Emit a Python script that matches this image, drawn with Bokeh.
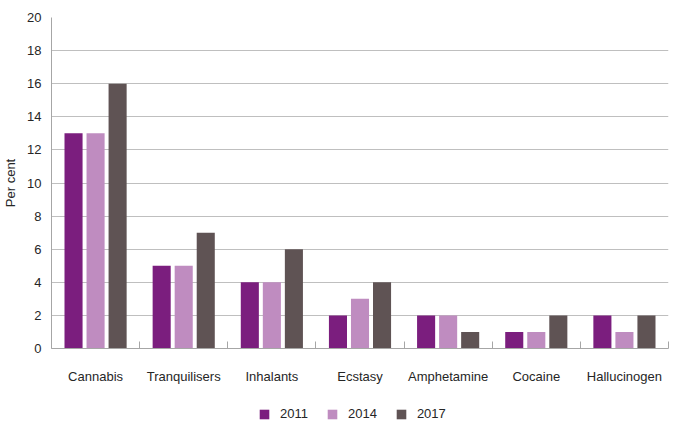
import numpy as np
from bokeh.plotting import figure
from bokeh.layouts import column
from bokeh.models import ColumnDataSource, FixedTicker, Legend, LegendItem, Range1d
from bokeh.transform import dodge
from bokeh.embed import file_html
from bokeh.resources import INLINE

categories = ["Cannabis", "Tranquilisers", "Inhalants", "Ecstasy", "Amphetamine", "Cocaine", "Hallucinogen"]
years = ["2011", "2014", "2017"]
v2011 = [13, 5, 4, 2, 2, 1, 2]
v2014 = [13, 5, 4, 3, 2, 1, 1]
v2017 = [16, 7, 6, 4, 1, 2, 2]
y_ticks = [0, 2, 4, 6, 8, 10, 12, 14, 16, 18, 20]

colors = ["#7B1E7E", "#BF8CC0", "#5F5354"]
FONT = "Liberation Sans"

xpos = np.arange(len(categories)) + 0.5
src = ColumnDataSource(dict(x=xpos, y2011=v2011, y2014=v2014, y2017=v2017))

p = figure(width=675, height=401, output_backend="svg", toolbar_location=None,
           x_range=Range1d(0, len(categories)), y_range=Range1d(0, 20),
           min_border_left=51, min_border_right=7, min_border_top=17, min_border_bottom=53)
p.outline_line_color = None
p.background_fill_color = "white"

for col, off, c in zip(["y2011", "y2014", "y2017"], [-0.25, 0.0, 0.25], colors):
    p.vbar(x=dodge("x", off), top=col, width=0.205, source=src, fill_color=c, line_color=None)

# x axis
p.xaxis.ticker = FixedTicker(ticks=list(xpos), minor_ticks=list(range(len(categories) + 1)))
p.xaxis.major_label_overrides = {float(x): c for x, c in zip(xpos, categories)}
p.xaxis.major_tick_line_color = None
p.xaxis.minor_tick_in = 7
p.xaxis.minor_tick_out = 0
p.xaxis.minor_tick_line_color = "#A6A6A6"
p.xaxis.axis_line_color = "#A6A6A6"
p.xaxis.major_label_standoff = 14
p.xaxis.major_label_text_font = FONT
p.xaxis.major_label_text_font_size = "13px"
p.xaxis.major_label_text_color = "#262626"
p.xgrid.grid_line_color = None

# y axis
p.yaxis.ticker = FixedTicker(ticks=y_ticks)
p.yaxis.major_tick_line_color = None
p.yaxis.minor_tick_line_color = None
p.yaxis.axis_line_color = "#A6A6A6"
p.yaxis.major_label_standoff = 4
p.yaxis.major_label_text_font = FONT
p.yaxis.major_label_text_font_size = "13px"
p.yaxis.major_label_text_color = "#262626"
p.yaxis.axis_label = "Per cent"
p.yaxis.axis_label_text_font = FONT
p.yaxis.axis_label_text_font_style = "normal"
p.yaxis.axis_label_text_font_size = "13px"
p.yaxis.axis_label_text_color = "#262626"
p.yaxis.axis_label_standoff = 6
p.ygrid.grid_line_color = "#BFBFBF"

# legend strip below the chart (swatch renderers sit outside its visible range)
lg = figure(width=675, height=22, output_backend="svg", toolbar_location=None,
            x_range=Range1d(0, 1), y_range=Range1d(0, 1),
            x_axis_location=None, y_axis_location=None,
            min_border_left=0, min_border_right=0, min_border_top=0, min_border_bottom=0)
lg.outline_line_color = None
lg.xgrid.grid_line_color = None
lg.ygrid.grid_line_color = None
swatch = ColumnDataSource(dict(x=[-5.0], top=[0.0]))
legend_renderers = [lg.vbar(x="x", top="top", width=0.1, source=swatch, fill_color=c, line_color=None)
                    for c in colors]
legend = Legend(items=[LegendItem(label=y, renderers=[r]) for y, r in zip(years, legend_renderers)],
                orientation="horizontal", border_line_color=None, location=(207, 2),
                label_text_font=FONT, label_text_font_size="13px", label_text_color="#262626",
                glyph_width=12, glyph_height=12, label_height=12, label_standoff=10, spacing=18,
                padding=5, margin=0, background_fill_alpha=0)
lg.add_layout(legend, "center")

layout = column(p, lg, spacing=0)
open("out.html", "w").write(file_html(layout, INLINE))
